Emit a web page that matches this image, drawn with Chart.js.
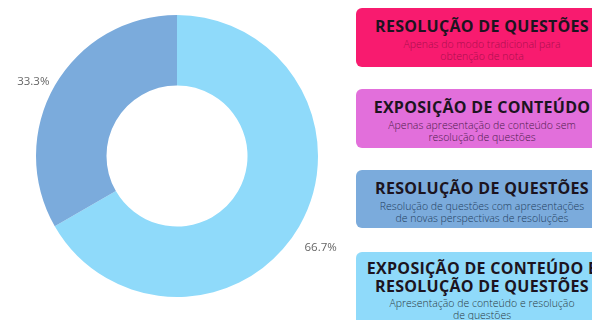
<!DOCTYPE html>
<html>
<head>
<meta charset="utf-8">
<script src="https://cdn.jsdelivr.net/npm/chart.js@4"></script>
<style>
  html, body { margin: 0; padding: 0; background: #fff; overflow: hidden; }
  body { width: 592px; height: 320px; position: relative; font-family: "Open Sans", sans-serif; }
  #chartBox { position: absolute; left: 0; top: 0; width: 354px; height: 320px; }
  .card { position: absolute; left: 356px; width: 252px; border-radius: 6px; text-align: center; box-sizing: border-box; padding-top: 9px; white-space: nowrap; }
  .card h3 { margin: 0; font-size: 16px; font-weight: 700; line-height: 18px; color: #1c1420; letter-spacing: 0.3px; }
  .card p { margin: 3px 0 0; font-size: 10.5px; line-height: 12px; font-weight: 300; }
</style>
</head>
<body>
<div id="chartBox"><canvas id="DonutChart"></canvas></div>

<div class="card" style="top:8px;height:59px;background:#f81b6f;">
  <h3>RESOLUÇÃO DE QUESTÕES</h3>
  <p style="color:#a8104e;">Apenas do modo tradicional para<br>obtenção de nota</p>
</div>
<div class="card" style="top:89px;height:59px;background:#e26fdb;">
  <h3>EXPOSIÇÃO DE CONTEÚDO</h3>
  <p style="color:#4e1c4c;">Apenas apresentação de conteúdo sem<br>resolução de questões</p>
</div>
<div class="card" style="top:170px;height:58px;background:#7babdc;">
  <h3>RESOLUÇÃO DE QUESTÕES</h3>
  <p style="color:#23405e;">Resolução de questões com apresentações<br>de novas perspectivas de resoluções</p>
</div>
<div class="card" style="top:252px;height:80px;background:#8fdafa;padding-top:7px;">
  <h3>EXPOSIÇÃO DE CONTEÚDO E<br>RESOLUÇÃO DE QUESTÕES</h3>
  <p style="color:#2c3a44;margin-top:2px;">Apresentação de conteúdo e resolução<br>de questões</p>
</div>

<script>
// data
var labels = ['Exposição de conteúdo e resolução de questões', 'Resolução de questões'];
var values = [66.7, 33.3];
var colors = ['#8fdafa', '#7babdc'];

// percentage labels outside the ring
var outsideLabels = {
    id: 'outsideLabels',
    afterDatasetsDraw: function (chart) {
        var ctx = chart.ctx;
        var meta = chart.getDatasetMeta(0);
        ctx.save();
        ctx.font = '11.5px "Open Sans", sans-serif';
        ctx.fillStyle = '#666';
        ctx.textAlign = 'center';
        ctx.textBaseline = 'middle';
        meta.data.forEach(function (arc, i) {
            var p = arc.getProps(['x', 'y', 'startAngle', 'endAngle', 'outerRadius'], true);
            var mid = (p.startAngle + p.endAngle) / 2;
            var r = p.outerRadius + 25;
            ctx.fillText(values[i].toFixed(1) + '%', p.x + Math.cos(mid) * r, p.y + Math.sin(mid) * r + 9);
        });
        ctx.restore();
    }
};

document.addEventListener("DOMContentLoaded", function () {
    var ctx = document.getElementById('DonutChart').getContext('2d');
    new Chart(ctx, {
        type: 'doughnut',
        data: {
            labels: labels,
            datasets: [{
                data: values,
                backgroundColor: colors,
                borderWidth: 0
            }]
        },
        options: {
            responsive: true,
            maintainAspectRatio: false,
            animation: false,
            cutout: '50%',
            layout: { padding: { top: 15, bottom: 23 } },
            plugins: {
                legend: { display: false },
                tooltip: { enabled: false }
            }
        },
        plugins: [outsideLabels]
    });
});
</script>
</body>
</html>
